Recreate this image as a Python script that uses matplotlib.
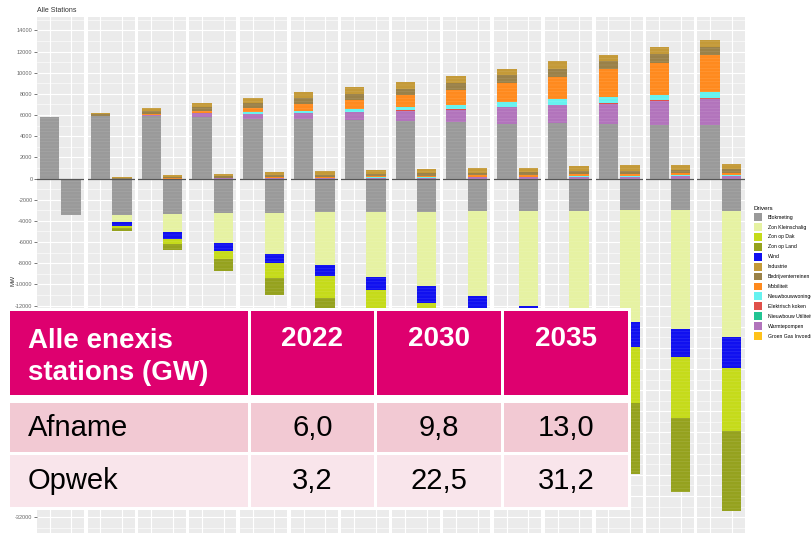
"""
Alle Stations: afname en opwek per driver, 2022-2035, met samenvattende tabel
"""
import matplotlib
matplotlib.use("Agg")
import matplotlib.pyplot as plt
from matplotlib.patches import Patch, Rectangle
from matplotlib.ticker import FuncFormatter
import numpy as np

years = list(range(2022, 2036))

# Afname (positieve staaf) in MW per driver
afname_blokmeting = [5860, 5900, 5950, 5830, 5670, 5610, 5510, 5450, 5350, 5200, 5260, 5130, 5100, 5040]
afname_warmtepompen = [0, 0, 30, 320, 475, 600, 790, 950, 1170, 1520, 1650, 1960, 2190, 2440]
afname_koken = [0, 0, 0, 0, 0, 20, 30, 40, 50, 60, 70, 80, 90, 100]
afname_nieuwbouw = [0, 0, 0, 60, 160, 160, 250, 320, 410, 440, 510, 540, 540, 570]
afname_mobiliteit = [0, 60, 150, 200, 410, 630, 850, 1110, 1430, 1780, 2150, 2630, 3010, 3490]
afname_bedrijven = [0, 100, 250, 400, 380, 570, 570, 600, 630, 760, 700, 730, 850, 790]
afname_industrie = [0, 150, 300, 320, 480, 570, 630, 630, 700, 630, 730, 630, 630, 700]

# Opwek staaf: klein positief deel boven nul
opwek_warmtepompen = [0, 0, 0, 20, 30, 50, 70, 100, 110, 120, 150, 170, 200, 210]
opwek_nieuwbouw = [0, 0, 0, 0, 20, 30, 40, 50, 60, 70, 90, 110, 120, 130]
opwek_mobiliteit = [0, 0, 40, 50, 70, 90, 110, 120, 130, 140, 160, 170, 180, 190]
opwek_bedrijven = [0, 50, 100, 150, 180, 200, 230, 250, 260, 260, 290, 310, 320, 330]
opwek_industrie = [0, 80, 180, 250, 300, 330, 370, 400, 420, 420, 450, 480, 480, 500]

# Opwek staaf: negatief deel (MW, als positieve getallen)
opwek_blokmeting = [3450, 3450, 3360, 3300, 3300, 3200, 3140, 3140, 3110, 3100, 3040, 2980, 2980, 3040]
opwek_zon_klein = [0, 700, 1680, 2750, 3860, 5000, 6150, 7030, 8010, 8910, 9660, 10550, 11260, 11960]
opwek_wind = [0, 330, 690, 790, 850, 1040, 1260, 1580, 1750, 1950, 2150, 2360, 2650, 2930]
opwek_zon_dak = [0, 220, 420, 790, 1360, 2020, 2700, 3300, 4250, 4700, 5050, 5350, 5700, 5920]
opwek_zon_land = [0, 250, 600, 1100, 1640, 2400, 3100, 3900, 5300, 5900, 6350, 6680, 7050, 7530]

drivers = ["Blokmeting", "Zon Kleinschalig", "Zon op Dak", "Zon op Land", "Wind",
           "Industrie", "Bedrijventerreinen", "Mobiliteit", "Nieuwbouwwoningen",
           "Elektrisch koken", "Nieuwbouw Utiliteit", "Warmtepompen",
           "Groen Gas Invoeding"]
driver_colors = ["#9A9A9A", "#E6F2A2", "#C5DB1A", "#95A21E", "#1010F0",
                 "#C49A38", "#9A8148", "#FF8A1E", "#66F2F0",
                 "#E0504A", "#22C493", "#B274BC", "#FFC21A"]
color_of = dict(zip(drivers, driver_colors))

# samenvattende tabel
table_header = ["Alle enexis\nstations (GW)", "2022", "2030", "2035"]
table_rows = ["Afname", "Opwek"]
afname_gw = ["6,0", "9,8", "13,0"]
opwek_gw = ["3,2", "22,5", "31,2"]

plt.rcParams["font.family"] = ["Liberation Sans", "DejaVu Sans"]
plt.rcParams["hatch.linewidth"] = 0.4

W, H = 811, 533
fig = plt.figure(figsize=(W / 100, H / 100), dpi=100)


def px_axes(left, top, width, height):
    """Axes in pixel coordinates (top-left origin)"""
    return fig.add_axes([left / W, 1 - (top + height) / H, width / W, height / H])


def stack(ax, x, parts, sign):
    """Stacks (name, values) segments from zero upwards or downwards"""
    base = 0
    for name, val in parts:
        ax.bar(x, sign * val, 0.9, bottom=base, color=color_of[name],
               hatch="-----", edgecolor=(1, 1, 1, 0.14), linewidth=0)
        base += sign * val


def tick_label(v, pos):
    # labels between -13000 and -31000 sit under the table
    if -31000 < v < -13000:
        return ""
    return "%d" % v


for i, year in enumerate(years):
    ax = px_axes(36.7 + i * 50.8, 17, 47.4, 516)
    ax.set_facecolor("#EBEBEB")
    ax.set_xlim(0.4, 2.6)
    ax.set_ylim(-33500, 15270)
    ax.set_xticks([1, 2])
    ax.set_yticks(np.arange(-32000, 14001, 2000))
    ax.set_yticks(np.arange(-33000, 15001, 2000), minor=True)
    ax.yaxis.set_major_formatter(FuncFormatter(tick_label))
    ax.grid(True, which="major", color="white", lw=0.8)
    ax.grid(True, which="minor", axis="y", color="white", lw=0.4)
    ax.set_axisbelow(True)
    for s in ax.spines.values():
        s.set_visible(False)
    ax.tick_params(axis="x", length=0, labelbottom=False)
    ax.tick_params(axis="y", which="minor", length=0)
    if i == 0:
        ax.tick_params(axis="y", labelsize=4, labelcolor="#666666", color="#444444",
                       length=2, width=0.5, pad=1)
    else:
        ax.tick_params(axis="y", length=0, labelleft=False)

    stack(ax, 1, [("Blokmeting", afname_blokmeting[i]),
                  ("Warmtepompen", afname_warmtepompen[i]),
                  ("Elektrisch koken", afname_koken[i]),
                  ("Nieuwbouwwoningen", afname_nieuwbouw[i]),
                  ("Mobiliteit", afname_mobiliteit[i]),
                  ("Bedrijventerreinen", afname_bedrijven[i]),
                  ("Industrie", afname_industrie[i])], 1)
    stack(ax, 2, [("Warmtepompen", opwek_warmtepompen[i]),
                  ("Nieuwbouwwoningen", opwek_nieuwbouw[i]),
                  ("Mobiliteit", opwek_mobiliteit[i]),
                  ("Bedrijventerreinen", opwek_bedrijven[i]),
                  ("Industrie", opwek_industrie[i])], 1)
    stack(ax, 2, [("Blokmeting", opwek_blokmeting[i]),
                  ("Zon Kleinschalig", opwek_zon_klein[i]),
                  ("Wind", opwek_wind[i]),
                  ("Zon op Dak", opwek_zon_dak[i]),
                  ("Zon op Land", opwek_zon_land[i])], -1)
    ax.axhline(0, color="#555555", lw=0.9)

fig.text(37 / W, 1 - 10 / H, "Alle Stations", fontsize=5, color="#333333", va="center")
fig.text(13 / W, 1 - 280 / H, "MW", fontsize=4.5, color="#333333", rotation=90,
         ha="center", va="center")

handles = [Patch(facecolor=c, edgecolor="none") for c in driver_colors]
fig.legend(handles, drivers, loc="upper left", bbox_to_anchor=(754 / W, 1 - 206 / H),
           frameon=False, fontsize=3.7, title="Drivers", title_fontsize=4.5,
           handlelength=1.55, handleheight=1.98, labelspacing=0.4,
           handletextpad=1.1, borderpad=0, borderaxespad=0, alignment="left")

# tabel als overlay in pixelcoordinaten
tab = fig.add_axes([0, 0, 1, 1])
tab.set_xlim(0, W)
tab.set_ylim(H, 0)
tab.axis("off")
tab.set_zorder(10)

col_x = [(10, 248), (251, 374), (377, 501), (504, 628)]
row_y = [(311, 395), (403, 452), (455, 507)]
row_colors = ["#DE006F", "#F2C9D3", "#F9E5EB"]

tab.add_patch(Rectangle((7, 308), 624, 202, facecolor="white", edgecolor="none"))
for r, (y0, y1) in enumerate(row_y):
    for x0, x1 in col_x:
        tab.add_patch(Rectangle((x0, y0), x1 - x0, y1 - y0,
                                facecolor=row_colors[r], edgecolor="none"))

tab.text(28, 357, table_header[0], fontsize=20, fontweight="bold", color="white",
         ha="left", va="center", linespacing=1.3)
for c in range(1, 4):
    xc = (col_x[c][0] + col_x[c][1]) / 2
    tab.text(xc, 339, table_header[c], fontsize=20, fontweight="bold",
             color="white", ha="center", va="center")

for r, (label, vals) in enumerate(zip(table_rows, [afname_gw, opwek_gw])):
    yc = (row_y[r + 1][0] + row_y[r + 1][1]) / 2
    tab.text(28, yc, label, fontsize=21, color="black", ha="left", va="center")
    for c in range(1, 4):
        xc = (col_x[c][0] + col_x[c][1]) / 2
        tab.text(xc, yc, vals[c - 1], fontsize=21, color="black",
                 ha="center", va="center")

fig.savefig("out.png", dpi=100)
